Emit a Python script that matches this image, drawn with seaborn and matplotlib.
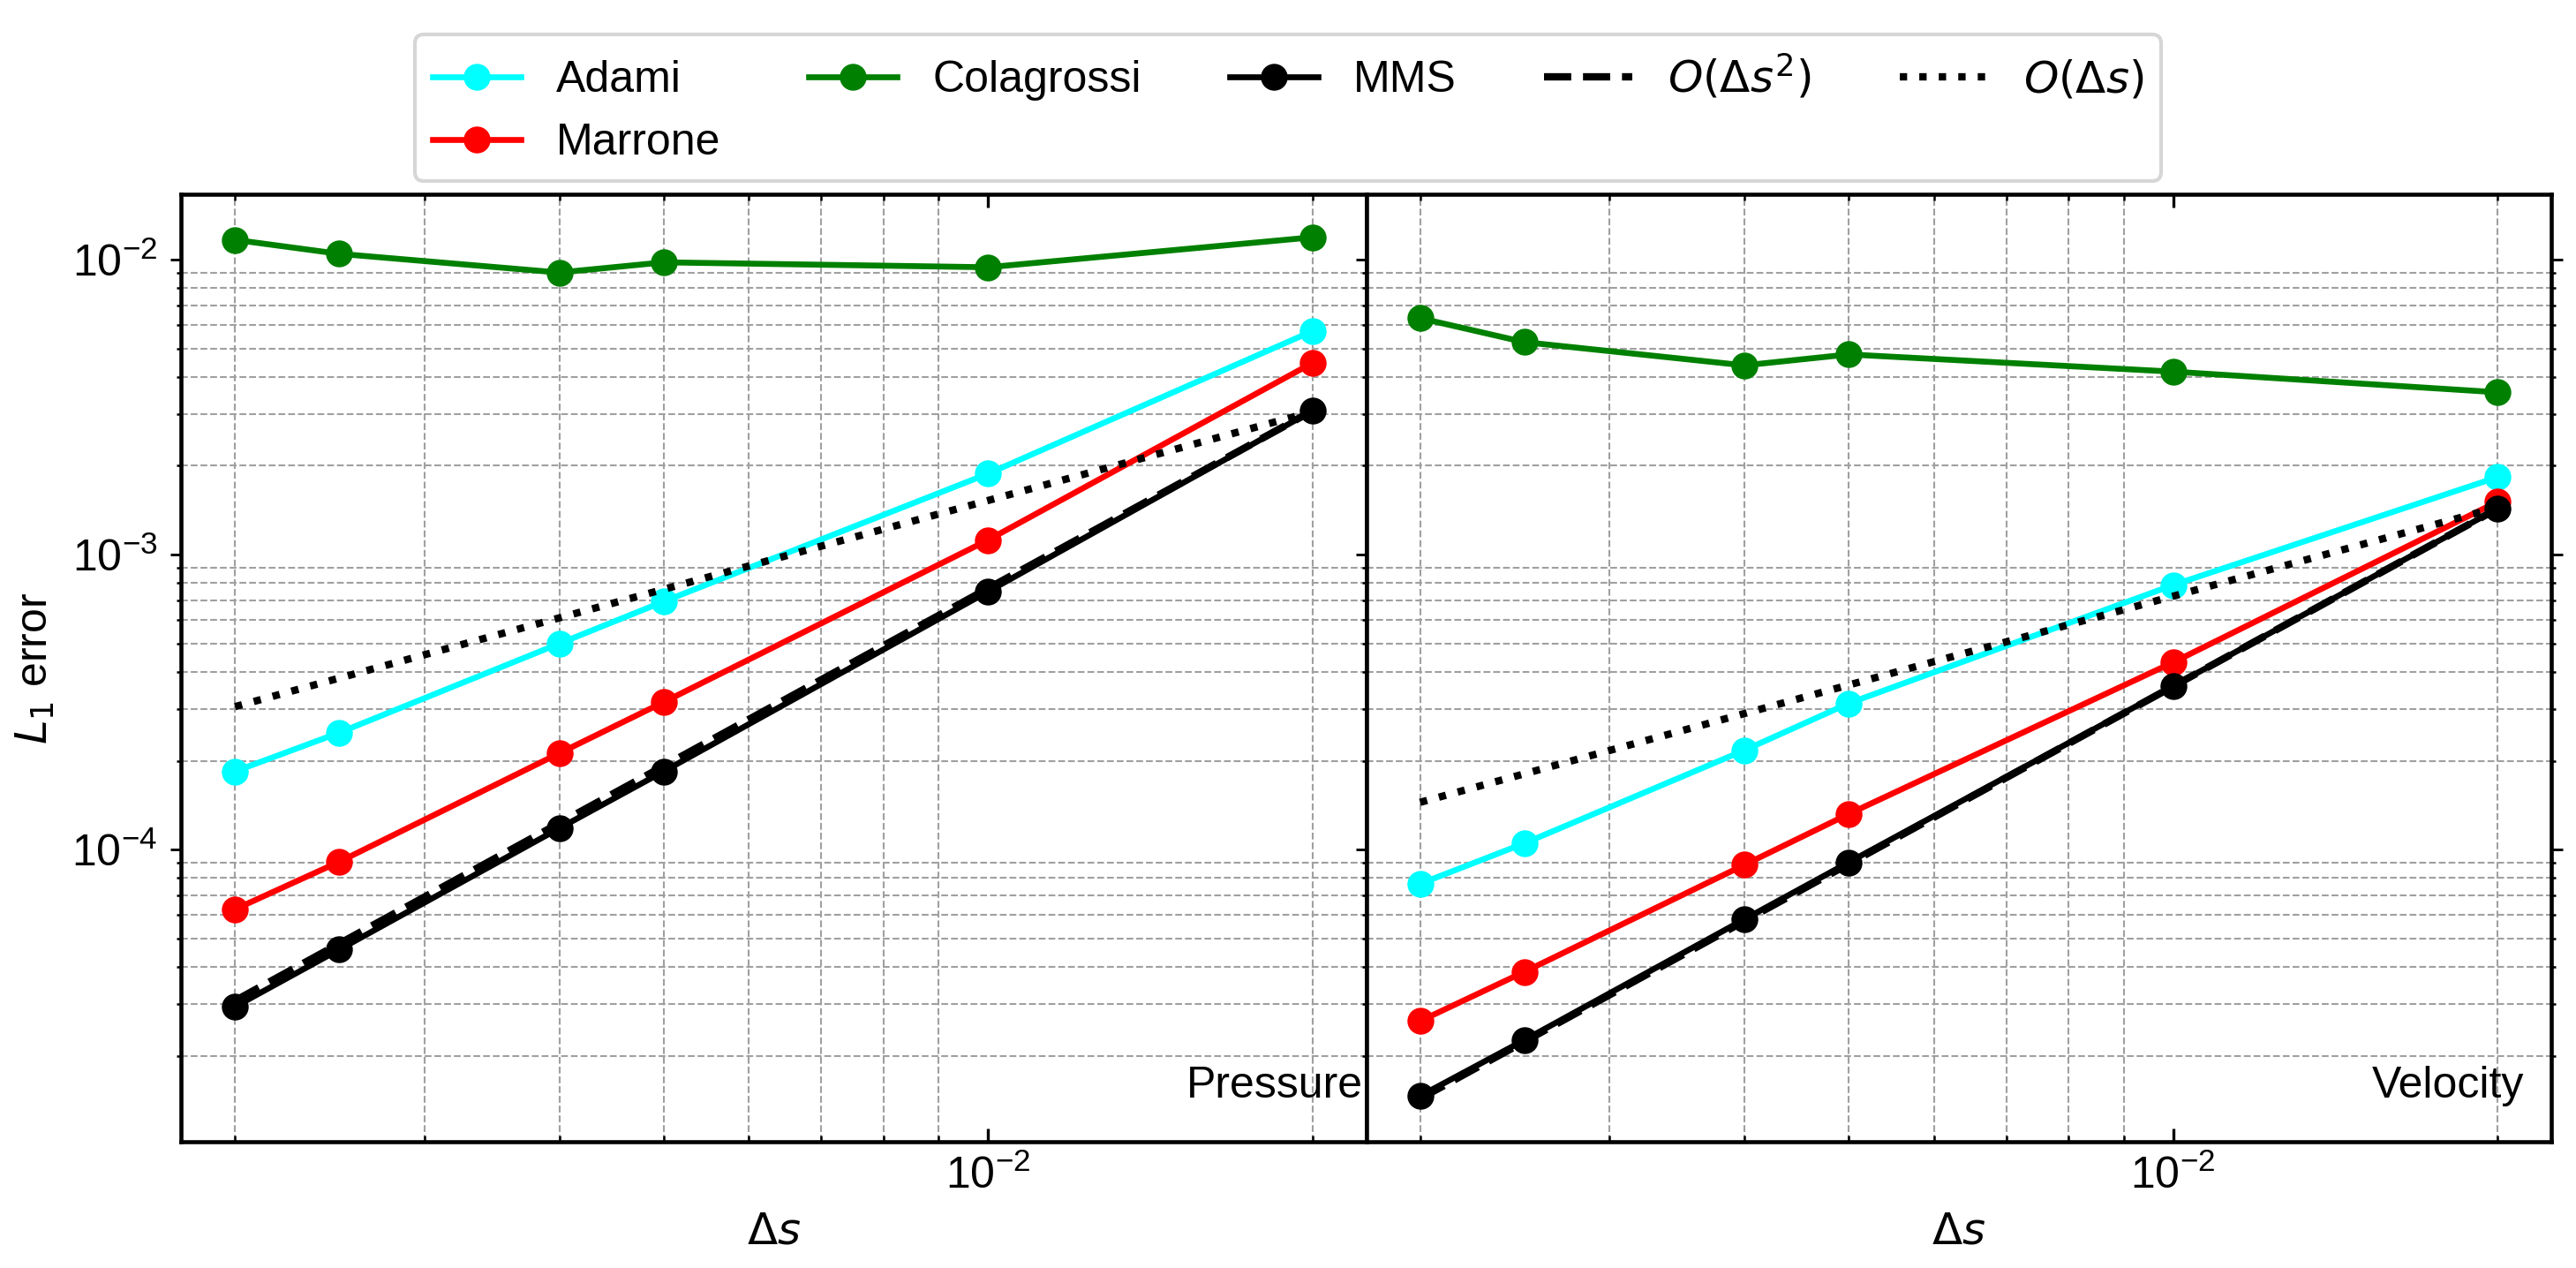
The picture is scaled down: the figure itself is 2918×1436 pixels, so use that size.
import matplotlib
matplotlib.use("Agg")
import matplotlib.pyplot as plt
import matplotlib.ticker as mticker
import seaborn as sns

# ---------------- data ----------------
ds = [0.002, 0.0025, 0.004, 0.005, 0.01, 0.02]

adami_p = [1.84e-4, 2.49e-4, 4.99e-4, 6.93e-4, 1.88e-3, 5.72e-3]
marrone_p = [6.27e-5, 9.09e-5, 2.12e-4, 3.16e-4, 1.12e-3, 4.46e-3]
colagrossi_p = [1.167e-2, 1.046e-2, 9.04e-3, 9.79e-3, 9.42e-3, 1.19e-2]
mms_p = [2.93e-5, 4.58e-5, 1.18e-4, 1.84e-4, 7.49e-4, 3.07e-3]

adami_v = [7.65e-5, 1.05e-4, 2.17e-4, 3.13e-4, 7.88e-4, 1.83e-3]
marrone_v = [2.62e-5, 3.85e-5, 8.87e-5, 1.32e-4, 4.31e-4, 1.51e-3]
colagrossi_v = [6.33e-3, 5.25e-3, 4.38e-3, 4.77e-3, 4.17e-3, 3.55e-3]
mms_v = [1.46e-5, 2.26e-5, 5.80e-5, 9.05e-5, 3.58e-4, 1.43e-3]

# reference slope lines (endpoints)
ds_ref = [0.002, 0.02]
ref2_p = [3.07e-5, 3.07e-3]
ref1_p = [3.05e-4, 3.05e-3]
ref2_v = [1.43e-5, 1.43e-3]
ref1_v = [1.445e-4, 1.445e-3]

series_names = ["Adami", "Marrone", "Colagrossi", "MMS"]
series_colors = ["cyan", "red", "green", "black"]
ref_labels = [r"$O(\Delta s^2)$", r"$O(\Delta s)$"]
panel_titles = ["Pressure", "Velocity"]

# ---------------- style ----------------
plt.rcParams["font.family"] = ["Liberation Sans", "DejaVu Sans"]
plt.rcParams["mathtext.fontset"] = "dejavusans"
plt.rcParams["axes.linewidth"] = 1.1
plt.rcParams["xtick.labelsize"] = 12
plt.rcParams["ytick.labelsize"] = 12

fig, axes = plt.subplots(1, 2, sharey=True, figsize=(2918 / 300, 1436 / 300), dpi=300)
fig.subplots_adjust(left=0.0703, right=0.9904, bottom=0.0996, top=0.8468, wspace=0)

panels = [
    ([adami_p, marrone_p, colagrossi_p, mms_p], ref2_p, ref1_p),
    ([adami_v, marrone_v, colagrossi_v, mms_v], ref2_v, ref1_v),
]

for i, (ax, (vals, r2, r1)) in enumerate(zip(axes, panels)):
    for name, col, y in zip(series_names, series_colors, vals):
        sns.lineplot(x=ds, y=y, ax=ax, color=col, marker="o", markersize=7.3,
                     markeredgecolor=col, markeredgewidth=0, linewidth=1.6,
                     label=name, legend=False)
    sns.lineplot(x=ds_ref, y=r2, ax=ax, color="black", linestyle="--",
                 linewidth=2, label=ref_labels[0], legend=False)
    sns.lineplot(x=ds_ref, y=r1, ax=ax, color="black", linestyle=":",
                 linewidth=2, label=ref_labels[1], legend=False)
    ax.set_xscale("log")
    ax.set_yscale("log")
    ax.grid(True, which="minor", linestyle="--", linewidth=0.5, color="#a0a0a0")
    ax.grid(False, which="major")
    ax.xaxis.set_minor_formatter(mticker.NullFormatter())
    ax.tick_params(axis="x", which="both", direction="in", top=True, bottom=True)
    ax.tick_params(axis="x", which="major", length=3.5, width=0.8)
    ax.tick_params(axis="x", which="minor", length=1.6, width=0.6)
    ax.tick_params(axis="y", which="major", direction="out", length=3.0, width=0.7)
    ax.tick_params(axis="y", which="minor", direction="out", length=1.2, width=0.6)
    ax.set_xlabel(r"$\Delta s$", fontsize=12)
    ax.text(0.997 if i == 0 else 0.977, 0.047, panel_titles[i], transform=ax.transAxes,
            ha="right", va="baseline", fontsize=12)

axes[0].set_ylabel(r"$L_1$ error", fontsize=12)
axes[1].tick_params(axis="y", which="both", left=True, right=True, labelleft=False)

handles, labels = axes[0].get_legend_handles_labels()
fig.legend(handles, labels, loc="upper center", bbox_to_anchor=(0.5, 0.99),
           ncol=5, fontsize=12, frameon=True)

fig.savefig("out.png", dpi=300)
